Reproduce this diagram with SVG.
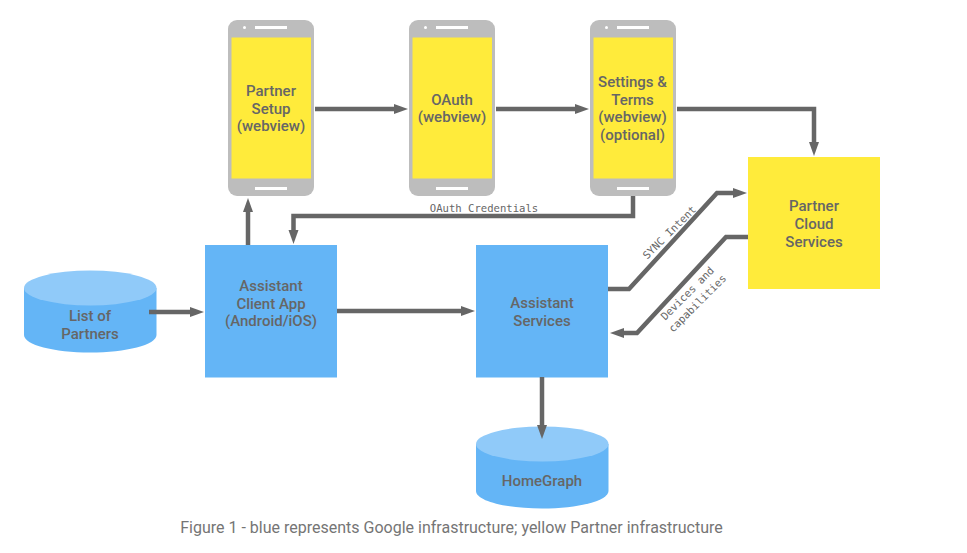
<svg xmlns="http://www.w3.org/2000/svg" width="967" height="553" viewBox="0 0 967 553">
<style>
.t{font-family:Roboto,"Liberation Sans",sans-serif;font-size:15px;font-weight:500;fill:#666;text-anchor:middle}
.m{font-family:"DejaVu Sans Mono","Liberation Mono",monospace;font-size:10.6px;fill:#666;text-anchor:middle}
.c{font-family:Roboto,"Liberation Sans",sans-serif;font-size:16px;fill:#757575;text-anchor:middle}
.body{fill:#bdbdbd}.scr{fill:#ffeb3b}.wh{fill:#fff}.b{fill:#64b5f6}.tp{fill:#90caf9}.y{fill:#ffeb3b}
.l{fill:none;stroke:#666;stroke-width:4.5}
</style>
<defs>
<marker id="a" markerUnits="userSpaceOnUse" markerWidth="16" markerHeight="12" refX="6" refY="5" orient="auto"><path d="M0 0L14 5L0 10Z" fill="#666"/></marker>
<g id="ph"><rect width="86" height="176" rx="9" class="body"/><rect x="3.500" y="17.500" width="79.500" height="141" class="scr"/><rect x="27" y="6" width="32" height="3" class="wh"/><rect x="15" y="6" width="3" height="3" rx="1.500" class="wh"/><rect x="27" y="167" width="32" height="3" class="wh"/></g>
</defs>
<rect width="967" height="553" fill="#fff"/>
<g id="partner-setup"><use href="#ph" x="228" y="20"/><text class="t"><tspan x="271" y="96">Partner</tspan><tspan x="271" y="113.500">Setup</tspan><tspan x="271" y="131">(webview)</tspan></text></g>
<g id="oauth"><use href="#ph" x="409" y="20"/><text class="t"><tspan x="452" y="104.500">OAuth</tspan><tspan x="452" y="122">(webview)</tspan></text></g>
<g id="settings"><use href="#ph" x="590" y="20"/><text class="t"><tspan x="632.500" y="87">Settings &amp;</tspan><tspan x="632.500" y="104.500">Terms</tspan><tspan x="632.500" y="122">(webview)</tspan><tspan x="632.500" y="139.500">(optional)</tspan></text></g>
<g id="partner-cloud"><rect x="748" y="157" width="132" height="132" class="y"/><text class="t"><tspan x="814" y="211">Partner</tspan><tspan x="814" y="229">Cloud</tspan><tspan x="814" y="246.500">Services</tspan></text></g>
<g id="client-app"><rect x="205" y="245" width="132" height="132.500" class="b"/><text class="t"><tspan x="271" y="291">Assistant</tspan><tspan x="271" y="308.500">Client App</tspan><tspan x="271" y="326">(Android/iOS)</tspan></text></g>
<g id="assistant-services"><rect x="476" y="245" width="132" height="132.500" class="b"/><text class="t"><tspan x="542" y="308">Assistant</tspan><tspan x="542" y="325.500">Services</tspan></text></g>
<g id="list-partners"><path d="M24 288V335C24 345 54 352.500 90 352.500S156.500 345 156.500 335V288Z" class="b"/><ellipse cx="90.250" cy="288" rx="66.250" ry="17.500" class="tp"/><text class="t"><tspan x="90" y="321">List of</tspan><tspan x="90" y="339">Partners</tspan></text></g>
<g id="homegraph"><path d="M476 444V491C476 501 506 508.500 542 508.500S608.500 501 608.500 491V444Z" class="b"/><ellipse cx="542.250" cy="444" rx="66.250" ry="17.500" class="tp"/><text class="t" x="542" y="485.500">HomeGraph</text></g>
<g id="connectors">
<path class="l" d="M315 109H400" marker-end="url(#a)"/>
<path class="l" d="M496 109H581" marker-end="url(#a)"/>
<path class="l" d="M677 109H814V148" marker-end="url(#a)"/>
<path class="l" d="M248 245V206" marker-end="url(#a)"/>
<path class="l" d="M633 196V216H293.500V236" marker-end="url(#a)"/>
<path class="l" d="M149 312H196" marker-end="url(#a)"/>
<path class="l" d="M337 311H467" marker-end="url(#a)"/>
<path class="l" d="M608 289H629L717 193H739" marker-end="url(#a)"/>
<path class="l" d="M748 237H726L637 333H618" marker-end="url(#a)"/>
<path class="l" d="M542 377V431" marker-end="url(#a)"/>
</g>
<g id="labels">
<text class="m" x="484" y="212">OAuth Credentials</text>
<text class="m" transform="translate(672 235) rotate(-45)">SYNC Intent</text>
<text class="m" transform="translate(690 296) rotate(-45)">Devices and</text>
<text class="m" transform="translate(700 306) rotate(-45)">capabilities</text>
<text class="c" x="451.500" y="533">Figure 1 - blue represents Google infrastructure; yellow Partner infrastructure</text>
</g>
</svg>
